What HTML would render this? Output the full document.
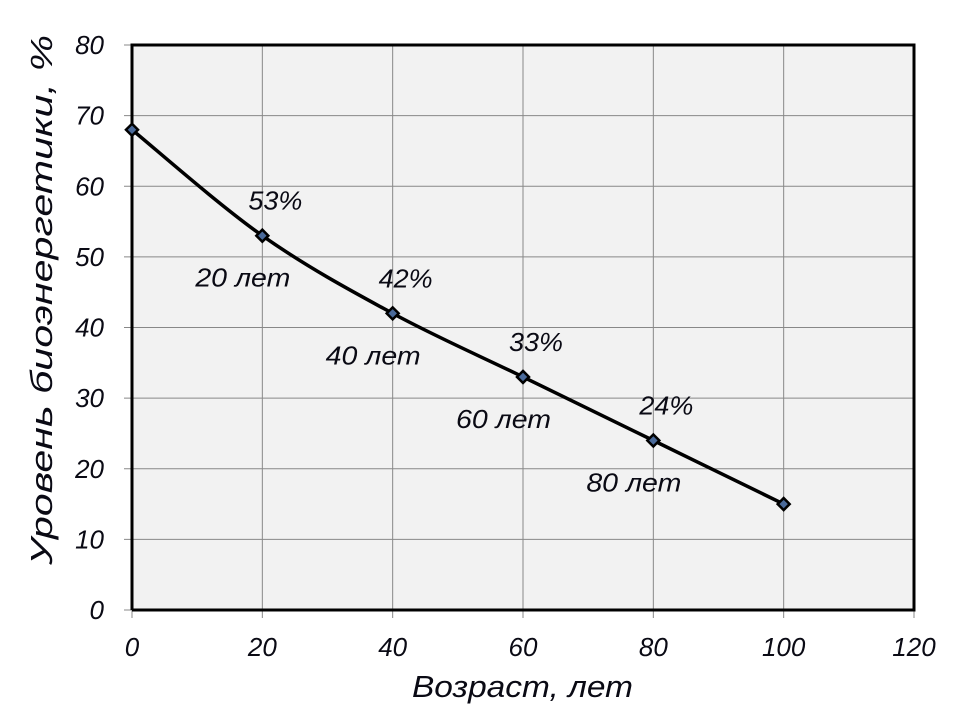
<!DOCTYPE html>
<html><head><meta charset="utf-8"><style>
body{margin:0;background:#fff;}
svg text{font-family:"Liberation Sans","DejaVu Sans",sans-serif;font-style:italic;fill:#0a0a14;}
</style></head><body>
<svg id="c" width="960" height="720"></svg>
<script>
const ages=[0,20,40,60,80,100];
const levels=[68,53,42,33,24,15];
const pctLabels=["","53%","42%","33%","24%",""];
const ageLabels=["","20 лет","40 лет","60 лет","80 лет",""];
const xTicks=[0,20,40,60,80,100,120];
const yTicks=[0,10,20,30,40,50,60,70,80];
const L=132,R=914,T=45,B=610;
const X=v=>L+(v/120)*(R-L), Y=v=>B-(v/80)*(B-T);
const s=document.getElementById('c');const NS="http://www.w3.org/2000/svg";
function mk(t,a,p){const e=document.createElementNS(NS,t);for(const k in a)e.setAttribute(k,a[k]);(p||s).appendChild(e);return e;}
let r=mk('rect',{x:L,y:T,width:R-L,height:B-T,fill:'#f2f2f2'});


xTicks.forEach(v=>{
 let g=mk('line',{x1:X(v),x2:X(v),y1:T,y2:B+8,stroke:'#888','stroke-width':1});
 
 
 let t=mk('text',{x:X(v),y:B+46,'text-anchor':'middle','font-size':26});t.textContent=v;
 
 
});
yTicks.forEach(v=>{
 let g=mk('line',{x1:L-8,x2:R,y1:Y(v),y2:Y(v),stroke:'#888','stroke-width':1});
 
 
 let t=mk('text',{x:L-28,y:Y(v)+9,'text-anchor':'end','font-size':26});t.textContent=v;
 
 
});
let bd=mk('path',{d:`M${L},${B}V${T}H${R}V${B}H${L}`,fill:'none',stroke:'#000','stroke-width':3});


const P=ages.map((a,i)=>[X(a),Y(levels[i])]);
let d=`M${P[0][0]},${P[0][1]}`;
for(let i=0;i<P.length-1;i++){const p0=P[Math.max(i-1,0)],p1=P[i],p2=P[i+1],p3=P[Math.min(i+2,P.length-1)];
 d+=`C${p1[0]+(p2[0]-p0[0])/6},${p1[1]+(p2[1]-p0[1])/6} ${p2[0]-(p3[0]-p1[0])/6},${p2[1]-(p3[1]-p1[1])/6} ${p2[0]},${p2[1]}`;}
let ln=mk('path',{d,fill:'none',stroke:'#000','stroke-width':3.5});


P.forEach((p,i)=>{
 let m=mk('path',{d:`M${p[0]},${p[1]-6}L${p[0]+6},${p[1]}L${p[0]},${p[1]+6}L${p[0]-6},${p[1]}Z`,fill:'#4a6a9a',stroke:'#000','stroke-width':2.5});
 
 
 if(pctLabels[i]){let t=mk('text',{x:p[0]-14,y:p[1]-26,'font-size':26,textLength:54,lengthAdjust:'spacingAndGlyphs'});t.textContent=pctLabels[i];
  
  }
 if(ageLabels[i]){let t=mk('text',{x:p[0]-67,y:p[1]+51,'font-size':26,textLength:95,lengthAdjust:'spacingAndGlyphs'});t.textContent=ageLabels[i];
  
  }
});
let xt=mk('text',{x:412,y:697,'font-size':31,textLength:221,lengthAdjust:'spacingAndGlyphs'});xt.textContent='Возраст, лет';


let yt=mk('text',{x:-565,y:0,'font-size':31,textLength:530,lengthAdjust:'spacingAndGlyphs',transform:'translate(52,0) rotate(-90)'});yt.textContent='Уровень биоэнергетики, %';


</script>
</body></html>
